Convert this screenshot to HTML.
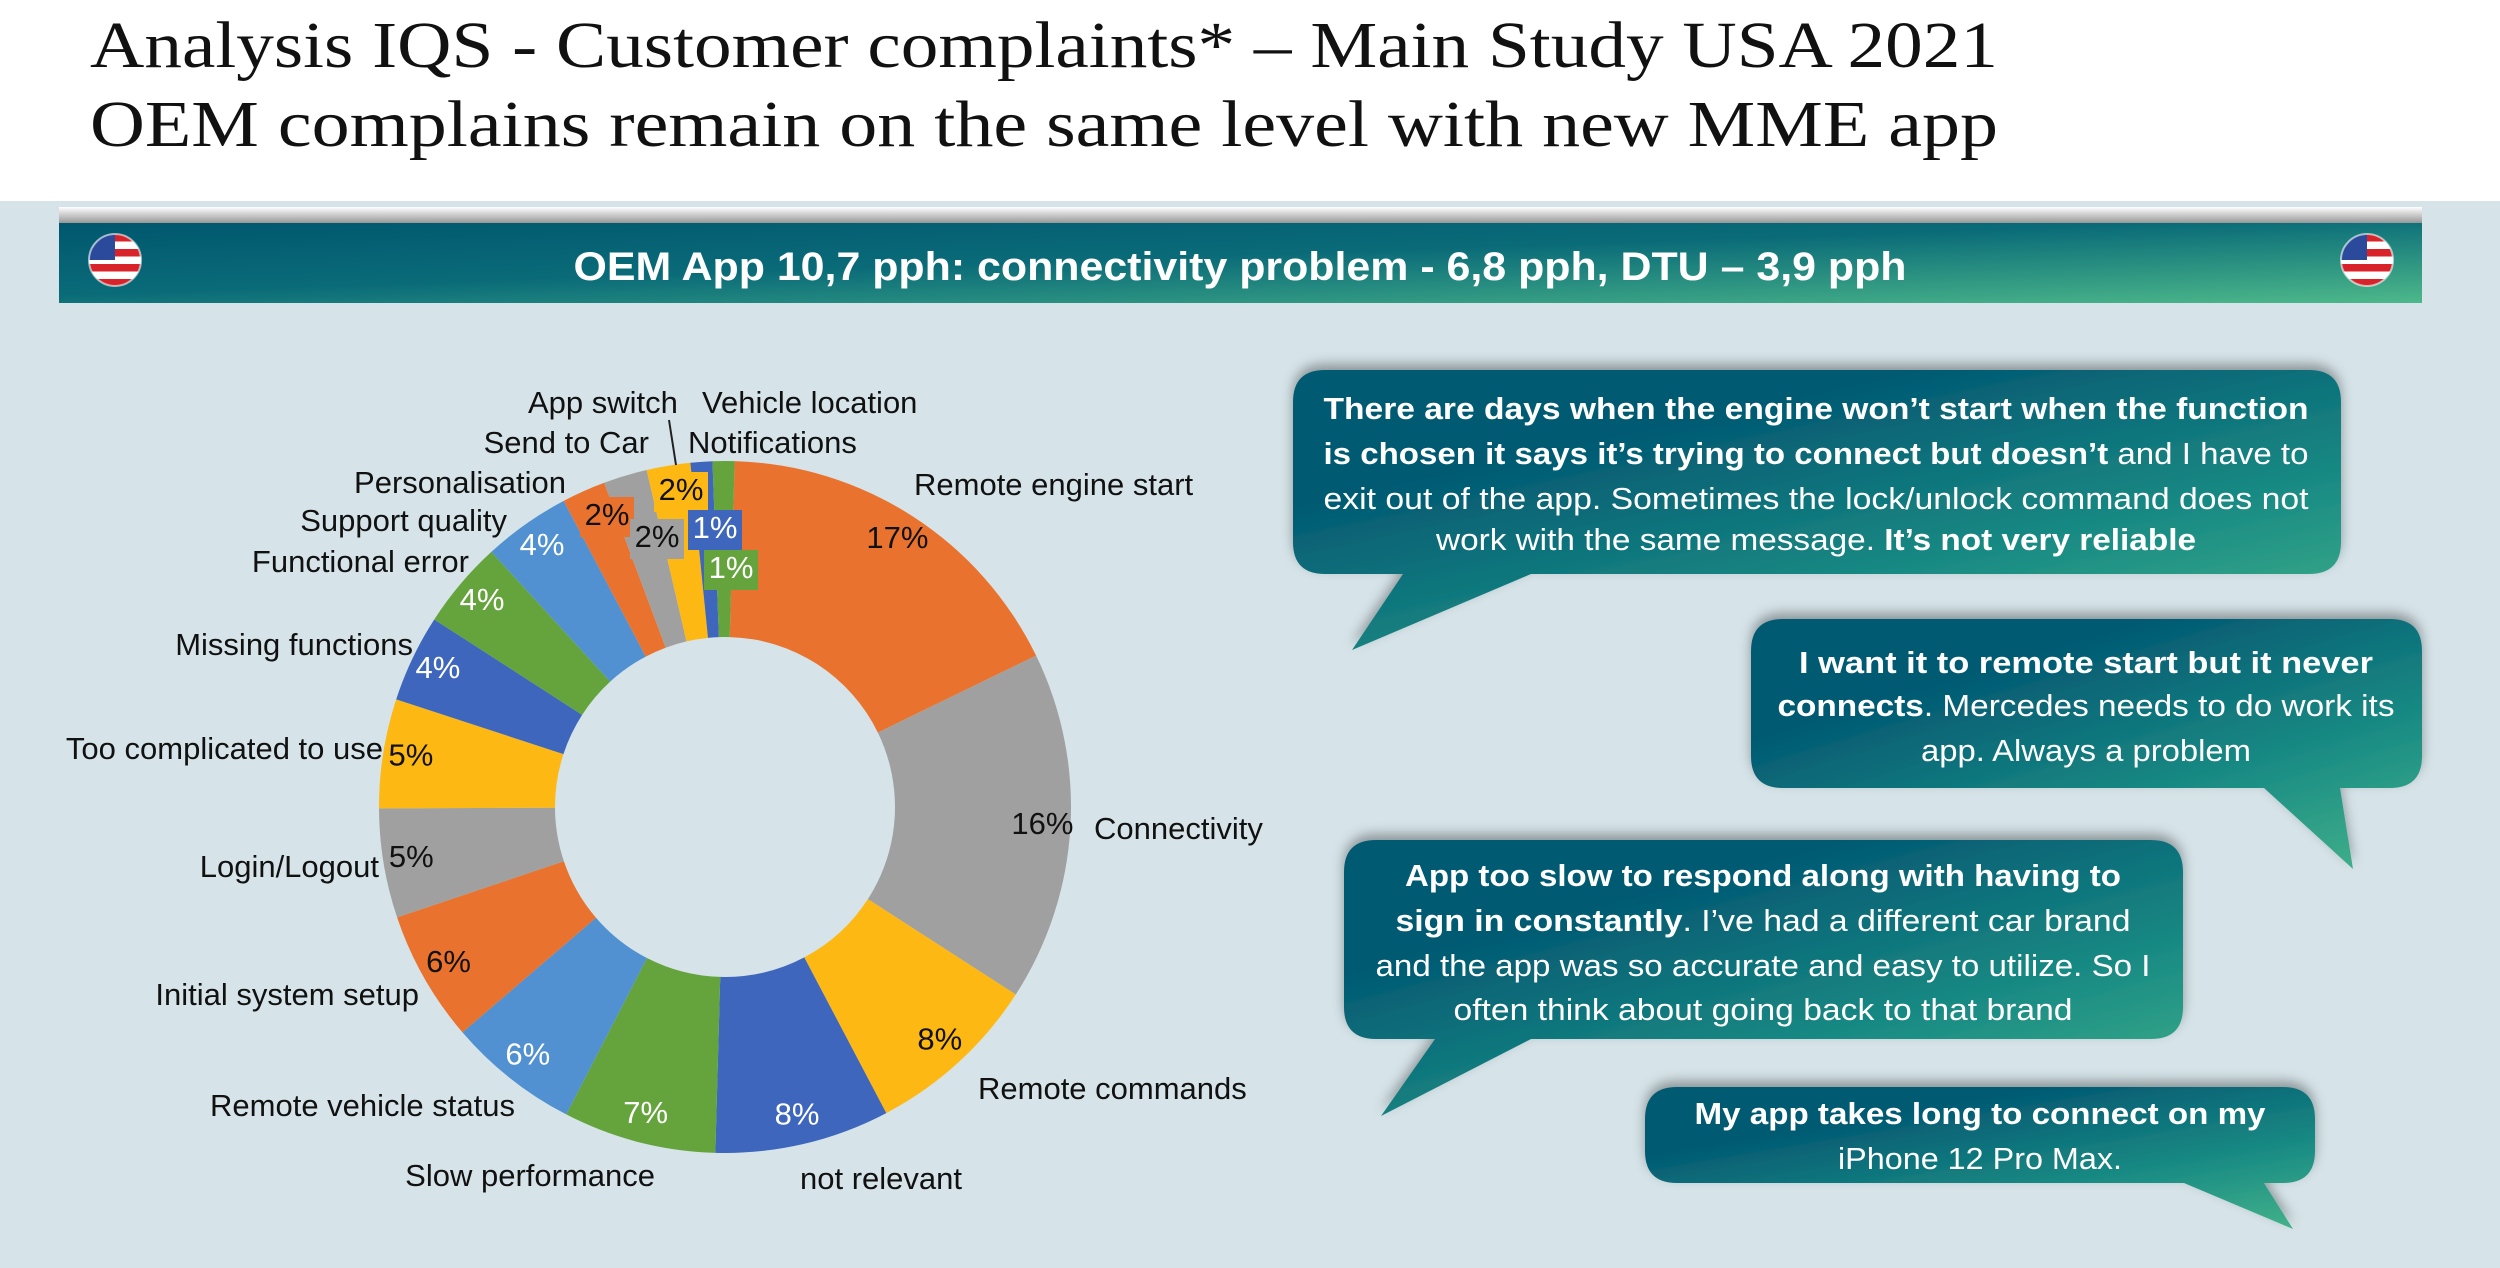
<!DOCTYPE html>
<html><head><meta charset="utf-8"><style>
html,body{margin:0;padding:0;background:#fff;}
svg{display:block;}
text{font-family:"Liberation Sans",sans-serif;}
</style></head><body>
<svg id="root" width="2500" height="1268" viewBox="0 0 2500 1268" xmlns="http://www.w3.org/2000/svg">
<defs>
<linearGradient id="bannerG" x1="0" y1="0" x2="1" y2="1">
<stop offset="0" stop-color="#00576e"/><stop offset="0.45" stop-color="#0a6b78"/><stop offset="1" stop-color="#4db88a"/></linearGradient>
<linearGradient id="bubG" x1="0.35" y1="0.2" x2="1" y2="1">
<stop offset="0" stop-color="#035a72"/><stop offset="0.55" stop-color="#1a8c84"/><stop offset="1" stop-color="#45b38a"/></linearGradient>
<linearGradient id="shadowG" x1="0" y1="0" x2="0" y2="1"><stop offset="0" stop-color="#ffffff"/><stop offset="1" stop-color="#8a8a8a"/></linearGradient>
<filter id="sh" x="-10%" y="-20%" width="120%" height="150%"><feDropShadow dx="0" dy="-6" stdDeviation="6" flood-color="#000" flood-opacity="0.35"/></filter>
<clipPath id="flagL"><circle cx="115" cy="260" r="26"/></clipPath>
<clipPath id="flagR"><circle cx="2367" cy="260" r="26"/></clipPath>
</defs>
<rect x="0" y="0" width="2500" height="1268" fill="#ffffff"/>
<rect x="0" y="201" width="2500" height="1067" fill="#d6e4e9"/>
<text x="90" y="67" style="font-family:'Liberation Serif',serif" font-size="66" fill="#111" textLength="1908" lengthAdjust="spacingAndGlyphs">Analysis IQS - Customer complaints* – Main Study USA 2021</text>
<text x="90" y="146" style="font-family:'Liberation Serif',serif" font-size="66" fill="#111" textLength="1908" lengthAdjust="spacingAndGlyphs">OEM complains remain on the same level with new MME app</text>
<rect x="59" y="207" width="2363" height="18" fill="url(#shadowG)"/>
<rect x="59" y="223" width="2363" height="80" fill="url(#bannerG)"/>
<text x="1240" y="280" text-anchor="middle" font-size="40" font-weight="bold" fill="#fff" textLength="1333" lengthAdjust="spacingAndGlyphs">OEM App 10,7 pph: connectivity problem - 6,8 pph, DTU – 3,9 pph</text>
<g id="flags"></g>
<g id="chart"></g>
<g id="labels"></g>
<g id="bubbles"></g>
</svg>
<script>
const categories=["Remote engine start","Connectivity","Remote commands","not relevant","Slow performance","Remote vehicle status","Initial system setup","Login/Logout","Too complicated to use","Missing functions","Functional error","Support quality","Personalisation","Send to Car","App switch","Vehicle location","Notifications"];
const values=[17,16,8,8,7,6,6,5,5,4,4,4,2,2,2,1,1];
const valueLabels=["17%","16%","8%","8%","7%","6%","6%","5%","5%","4%","4%","4%","2%","2%","2%","1%","1%"];
const palette=["#e9732e","#a0a0a0","#fdb813","#3e66bd","#65a43d","#5291d1"];
const darkText=[true,true,true,false,false,false];
// label layout (positions, not data)
const catPos=[[914,484,"start"],[1094,828,"start"],[978,1088,"start"],[800,1178,"start"],[655,1175,"end"],[515,1105,"end"],[419,994,"end"],[379,866,"end"],[383,748,"end"],[413,644,"end"],[469,561,"end"],[507,520,"end"],[566,482,"end"],[649,442,"end"],[528,402,"start"],[702,402,"start"],[688,442,"start"]];
const boxPos={12:[607,517],13:[657,539],14:[681,492],15:[715,530],16:[731,570]};
const NS="http://www.w3.org/2000/svg";
const cx=725,cy=807,R=346,r0=170,startDeg=1.6;
const total=values.reduce((a,b)=>a+b,0);
function ang(v){return (startDeg+v/total*360)*Math.PI/180;}
function pt(a,rad){return [cx+rad*Math.sin(a),cy-rad*Math.cos(a)];}
const chart=document.getElementById('chart');
const labels=document.getElementById('labels');
function mk(tag,attrs,parent){const e=document.createElementNS(NS,tag);for(const k in attrs)e.setAttribute(k,attrs[k]);parent.appendChild(e);return e;}
let cum=0;
values.forEach((v,i)=>{
  const a0=ang(cum),a1=ang(cum+v);cum+=v;
  const p0=pt(a0,R),p1=pt(a1,R),q1=pt(a1,r0),q0=pt(a0,r0);
  const large=(a1-a0)>Math.PI?1:0;
  const d=`M${p0[0]},${p0[1]} A${R},${R} 0 ${large} 1 ${p1[0]},${p1[1]} L${q1[0]},${q1[1]} A${r0},${r0} 0 ${large} 0 ${q0[0]},${q0[1]} Z`;
  const col=palette[i%6];
  const s=mk('path',{d:d,fill:col},chart);
  
  
  const tc=darkText[i%6]?'#111':'#fff';
  let lx,ly;
  if(boxPos[i]){
    [lx,ly]=boxPos[i];
    const b=mk('rect',{x:lx-27,y:ly-20,width:54,height:40,fill:col},labels);
    
    
  } else {
    const am=(a0+a1)/2;[lx,ly]=pt(am,318);
  }
  const t=mk('text',{x:lx,y:ly+8,'text-anchor':'middle','font-size':31,fill:tc},labels);
  t.textContent=valueLabels[i];
  
  
  const c=catPos[i];
  const ct=mk('text',{x:c[0],y:c[1]+11,'text-anchor':c[2],'font-size':31,fill:'#111'},labels);
  ct.textContent=categories[i];
  
  
});
const ll=mk('line',{x1:669,y1:420,x2:676,y2:465,stroke:'#222','stroke-width':2},labels);


// flags
const fl=document.getElementById('flags');
[[115,'flagL'],[2367,'flagR']].forEach(([fx,cid])=>{
  const g=mk('g',{'clip-path':'url(#'+cid+')'},fl);
  
  
  for(let k=0;k<7;k++){mk('rect',{x:fx-26,y:234+k*7.5,width:52,height:7.5,fill:k%2?'#fff':'#d8232a'},g);}
  mk('rect',{x:fx-26,y:234,width:26,height:26,fill:'#2b4a9b'},g);
  mk('circle',{cx:fx,cy:260,r:26,fill:'none',stroke:'#ffffff','stroke-width':2,opacity:0.6},fl);
});
// bubbles
const bubbles=[
 {name:'quote-bubble-1',x:1293,y:370,w:1048,h:204,tail:[[1403,574],[1531,574],[1352,650]],cx:1816,lines:[
   {y:419,w:985,parts:[["There are days when the engine won’t start when the function",1]]},
   {y:464,w:985,parts:[["is chosen it says it’s trying to connect but doesn’t",1],[" and I have to",0]]},
   {y:509,w:985,parts:[["exit out of the app. Sometimes the lock/unlock command does not",0]]},
   {y:550,w:760,parts:[["work with the same message. ",0],["It’s not very reliable",1]]}]},
 {name:'quote-bubble-2',x:1751,y:619,w:671,h:169,tail:[[2264,788],[2340,788],[2353,869]],cx:2086,lines:[
   {y:673,w:574,parts:[["I want it to remote start but it never",1]]},
   {y:716,w:617,parts:[["connects",1],[". Mercedes needs to do work its",0]]},
   {y:761,w:330,parts:[["app. Always a problem",0]]}]},
 {name:'quote-bubble-3',x:1344,y:840,w:839,h:199,tail:[[1435,1039],[1531,1039],[1381,1116]],cx:1763,lines:[
   {y:886,w:716,parts:[["App too slow to respond along with having to",1]]},
   {y:931,w:735,parts:[["sign in constantly",1],[".  I’ve had a different car brand",0]]},
   {y:976,w:775,parts:[["and the app was so accurate and easy to utilize.  So I",0]]},
   {y:1020,w:619,parts:[["often think about going back to that brand",0]]}]},
 {name:'quote-bubble-4',x:1645,y:1087,w:670,h:96,tail:[[2184,1183],[2264,1183],[2293,1229]],cx:1980,lines:[
   {y:1124,w:571,parts:[["My app takes long to connect on my",1]]},
   {y:1169,w:284,parts:[["iPhone 12 Pro Max.",0]]}]}
];
const bg=document.getElementById('bubbles');
bubbles.forEach(b=>{
  const g=mk('g',{filter:'url(#sh)'},bg);
  
  
  const x=b.x,y=b.y,w=b.w,h=b.h,rr=32,t=b.tail;
  const d=`M${x+rr},${y} H${x+w-rr} Q${x+w},${y} ${x+w},${y+rr} V${y+h-rr} Q${x+w},${y+h} ${x+w-rr},${y+h} H${Math.max(t[0][0],t[1][0])} L${t[2][0]},${t[2][1]} L${Math.min(t[0][0],t[1][0])},${y+h} H${x+rr} Q${x},${y+h} ${x},${y+h-rr} V${y+rr} Q${x},${y} ${x+rr},${y} Z`;
  mk('path',{d:d,fill:'url(#bubG)'},g);
  b.lines.forEach(l=>{
    const te=mk('text',{x:b.cx,y:l.y,'text-anchor':'middle','font-size':31,fill:'#fff',textLength:l.w,lengthAdjust:'spacingAndGlyphs'},bg);
    
    
    l.parts.forEach(p=>{const ts=mk('tspan',{'font-weight':p[1]?'bold':'normal'},te);ts.textContent=p[0];});
  });
});
</script>
</body></html>
